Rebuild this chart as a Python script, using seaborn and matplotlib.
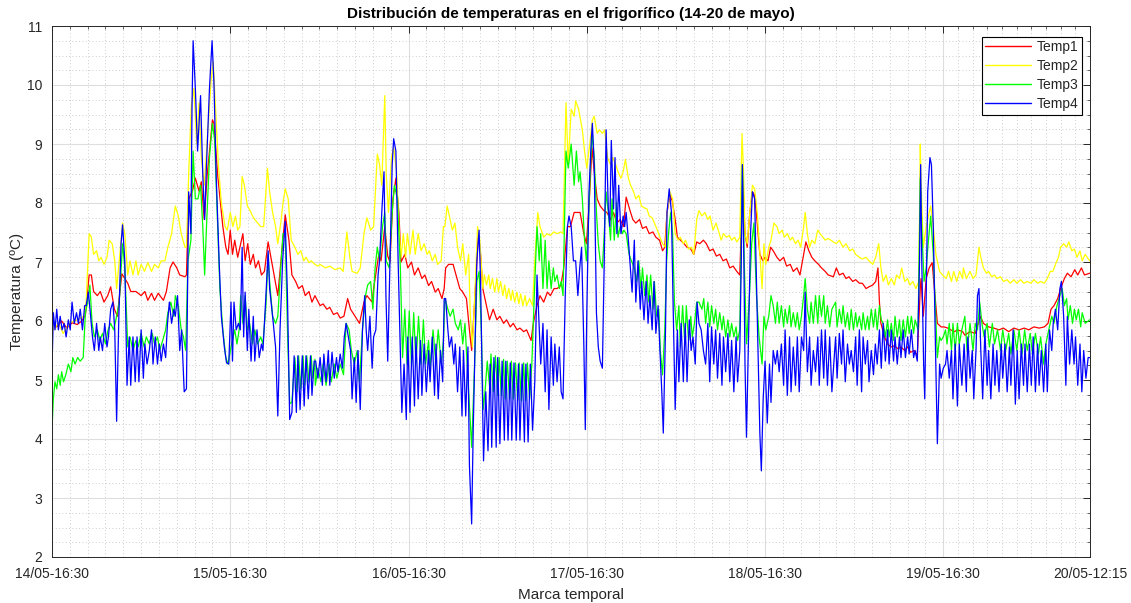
import matplotlib
matplotlib.use("Agg")
import matplotlib.pyplot as plt
from matplotlib.lines import Line2D
import seaborn as sns
import pandas as pd
import numpy as np

# ---------------- data (hours since 14/05 16:30, degrees C) ----------------
temp1 = [(0,5.97),(0.64,5.9),(1.3,6.0),(2.0,5.88),(2.7,5.97),(3.4,5.94),(4.0,6.0),(4.5,6.1),(5.0,6.78),(5.3,6.78),(5.6,6.5),(6.1,6.43),(6.5,6.5),(7.0,6.32),(7.5,6.43),(7.9,6.58),(8.4,6.2),(8.8,6.08),(9.4,6.8),(10.2,6.64),(10.6,6.5),(11.3,6.5),(12.0,6.43),(12.5,6.5),(12.9,6.35),(13.4,6.47),(13.8,6.35),(14.3,6.47),(15.0,6.35),(15.4,6.5),(15.9,6.9),(16.3,7.0),(16.8,6.9),(17.2,6.78),(17.9,6.75),
 (18.1,6.78),(18.4,8.07),(18.9,8.2),(19.3,8.42),(19.8,8.2),(20.1,8.36),(20.5,7.72),(20.9,8.48),(21.6,9.41),(21.8,9.35),(22.3,8.48),(23.0,7.6),(23.4,7.25),(23.7,7.13),(24.0,7.54),(24.3,7.13),(24.6,7.37),(25.0,7.08),(25.4,7.31),(25.7,7.48),(26.0,7.02),(26.35,7.31),(26.7,6.96),(27.1,7.13),(27.4,6.9),(27.8,7.02),(28.2,6.78),(28.6,6.84),(29.1,7.34),(29.4,7.13),(29.9,6.78),(30.4,6.43),(30.9,7.13),(31.4,7.8),(31.9,7.37),(32.3,6.78),(32.8,6.67),(33.2,6.55),(33.7,6.6),(34.1,6.43),(34.6,6.5),(35.0,6.32),(35.4,6.43),
 (35.6,6.38),(36.1,6.26),(36.5,6.29),(37.0,6.2),(37.4,6.23),(37.9,6.11),(38.4,6.14),(38.8,6.05),(39.3,6.08),(39.8,6.38),(40.2,6.2),(40.8,6.08),(41.4,5.96),(42.0,6.32),(42.4,6.43),(43.1,6.32),(43.3,6.55),(44.0,7.13),(44.3,7.02),(44.8,7.6),(45.2,7.1),(45.5,7.0),(45.9,8.07),(46.3,8.42),(46.7,7.84),(47.0,7.0),(47.5,7.13),(47.9,6.9),(48.4,7.0),(48.8,6.78),(49.3,6.9),(49.8,6.72),(50.2,6.78),(50.7,6.6),(51.1,6.67),(51.6,6.49),(52.0,6.55),(52.5,6.38),(52.8,6.55),
 (53.0,6.9),(53.4,6.96),(54.0,6.96),(54.4,6.78),(54.9,6.55),(55.3,6.49),(55.8,6.38),(56.2,5.85),(56.5,5.5),(56.9,6.32),(57.4,7.48),(57.7,7.13),(58.0,6.55),(58.5,6.26),(58.9,6.02),(59.4,6.2),(59.9,6.02),(60.3,6.08),(60.8,5.96),(61.2,6.02),(61.7,5.9),(62.1,5.96),(62.6,5.85),(63.0,5.88),(63.5,5.82),(63.9,5.85),(64.5,5.67),(64.8,5.96),(65.3,6.26),(65.7,6.43),(66.2,6.32),(66.7,6.49),(67.1,6.43),(67.6,6.55),(68.0,6.55),(68.5,6.6),(68.9,6.9),(69.4,7.6),(69.8,7.6),(70.3,7.84),
 (70.7,7.84),(71.1,7.84),(71.6,7.48),(71.95,7.31),(72.3,7.95),(72.7,8.94),(73.0,8.53),(73.4,8.07),(73.8,7.95),(74.3,7.87),(74.7,7.84),(75.2,7.72),(75.6,7.84),(76.05,7.66),(76.5,7.72),(76.95,7.6),(77.3,8.1),(77.75,7.9),(78.2,7.72),(78.6,7.66),(79.1,7.72),(79.5,7.57),(80.0,7.6),(80.4,7.48),(80.9,7.51),(81.3,7.42),(81.8,7.37),(82.2,7.19),(82.5,7.25),(82.8,7.84),(83.2,8.13),(83.5,8.04),(83.9,7.72),(84.2,7.42),(84.6,7.37),(85.1,7.31),(85.5,7.25),(86.0,7.22),(86.4,7.13),(86.8,7.34),(87.2,7.31),(87.7,7.37),
 (88.1,7.31),(88.55,7.19),(89.0,7.22),(89.45,7.1),(89.9,7.13),(90.35,7.02),(90.8,7.05),(91.25,6.9),(91.7,6.93),(92.2,6.84),(92.6,6.78),(93.0,8.42),(93.3,7.48),(93.6,7.25),(93.95,7.84),(94.3,8.19),(94.6,8.13),(94.9,7.72),(95.3,7.13),(95.7,7.02),(96.0,7.08),(96.4,7.02),(96.75,7.25),(97.1,7.19),(97.6,7.08),(98.0,7.02),(98.5,7.08),(98.9,6.93),(99.4,6.96),(99.8,6.84),(100.3,6.9),(100.7,6.78),(101.2,7.13),(101.5,7.34),(101.9,7.19),(102.3,7.08),(102.7,7.02),(103.2,6.96),(103.6,6.9),(104.1,6.84),(104.5,6.78),(105.2,6.75),
 (105.6,6.9),(106.0,6.78),(106.5,6.81),(106.9,6.72),(107.3,6.75),(107.8,6.67),(108.2,6.7),(108.7,6.64),(109.1,6.64),(109.6,6.55),(110.0,6.58),(110.5,6.61),(110.9,6.67),(111.2,6.9),(111.4,6.32),(111.6,5.96),(112.1,5.73),(112.5,5.61),(113.0,5.56),(113.4,5.58),(113.9,5.53),(114.3,5.56),(114.8,5.5),(115.2,5.56),(115.6,5.47),(116.1,5.5),(116.5,5.41),(116.9,6.55),(117.0,6.72),(117.3,6.08),(117.7,6.72),(118.1,6.9),(118.5,6.99),(118.8,6.55),(119.2,5.96),(119.7,5.9),(120.1,5.9),(120.6,5.88),(121.0,5.85),(121.5,5.82),(121.9,5.85),(122.6,5.82),
 (122.9,5.76),(123.6,5.82),(124.3,5.79),(125.0,6.08),(125.4,5.96),(126.1,5.9),(126.8,5.88),(127.5,5.85),(128.1,5.88),(128.8,5.82),(129.5,5.88),(130.2,5.85),(130.9,5.88),(131.5,5.85),(132.2,5.9),(132.9,5.88),(133.6,5.9),(134.1,5.96),(134.5,6.2),(134.9,6.26),(135.4,6.38),(135.8,6.55),(136.3,6.72),(136.7,6.81),(137.2,6.75),(137.7,6.87),(138.1,6.78),(138.6,6.9),(139.0,6.78),(139.7,6.81)]

temp2 = [(0,6.32),(0.27,5.85),(0.86,5.97),(1.5,5.79),(2.45,5.97),(3.4,6.02),(4.3,6.08),(4.6,6.32),(5.0,7.48),(5.3,7.42),(5.6,7.13),(6.0,7.19),(6.3,7.02),(6.6,7.08),(7.0,6.96),(7.4,7.08),(7.7,7.37),(8.1,7.31),(8.45,7.02),(8.7,6.55),(9.1,7.08),(9.5,7.66),(9.8,7.48),(10.2,6.78),(10.5,7.02),(10.9,6.78),(11.3,7.02),(11.6,6.78),(12.0,6.96),(12.45,6.84),(12.9,6.99),(13.4,6.84),(13.8,6.96),(14.3,6.9),(14.7,7.02),(15.2,7.02),(15.6,7.25),(16.1,7.48),(16.6,7.95),(17.0,7.78),(17.4,7.48),(17.9,7.25),
 (18.1,7.25),(18.4,8.48),(18.75,9.64),(19.1,9.94),(19.5,9.0),(19.8,9.7),(20.1,8.77),(20.5,8.3),(20.9,9.06),(21.4,10.05),(21.7,10.4),(22.0,9.64),(22.4,8.65),(22.8,8.0),(23.3,7.6),(23.6,7.54),(24.0,7.84),(24.35,7.6),(24.7,7.78),(25.0,7.54),(25.3,7.6),(25.6,8.45),(25.9,8.3),(26.3,7.95),(26.6,7.89),(27.0,7.78),(27.3,7.72),(27.7,7.66),(28.1,7.6),(28.5,7.6),(29.0,8.59),(29.3,8.19),(29.7,7.84),(30.1,7.6),(30.4,7.31),(30.8,7.66),(31.1,8.0),(31.4,8.24),(31.8,8.07),(32.2,7.37),(32.7,7.25),(33.1,7.13),(33.5,7.19),(33.9,7.02),(34.2,7.08),(34.6,6.99),(34.9,7.02),(35.4,6.96),
 (35.8,6.93),(36.1,6.96),(36.8,6.9),(37.4,6.93),(38.1,6.87),(38.8,6.9),(39.2,6.84),(39.7,7.51),(40.1,7.08),(40.4,6.84),(41.1,6.81),(41.5,6.9),(42.0,7.48),(42.4,7.75),(42.9,7.54),(43.3,7.6),(43.8,8.83),(44.1,8.65),(44.4,8.3),(44.8,9.82),(45.0,8.48),(45.3,7.84),(45.7,8.77),(46.0,8.94),(46.4,8.53),(46.7,7.6),(47.0,7.08),(47.3,7.48),(47.6,7.08),(47.85,7.48),(48.2,7.13),(48.6,7.54),(48.9,7.13),(49.3,7.48),(49.7,7.19),(50.1,7.31),(50.5,7.13),(50.8,7.19),(51.2,7.02),(51.6,7.13),(51.9,6.96),(52.4,7.02),(52.7,7.6),
 (52.9,7.6),(53.2,7.95),(53.5,7.78),(53.9,7.54),(54.25,7.66),(54.6,7.25),(55.0,7.02),(55.3,7.31),(55.7,6.78),(56.1,7.13),(56.3,6.14),(56.6,5.56),(57.0,6.67),(57.3,7.6),(57.6,7.37),(58.0,6.55),(58.2,6.78),(58.5,6.61),(58.8,6.78),(59.0,6.55),(59.3,6.72),(59.6,6.49),(59.9,6.72),(60.1,6.49),(60.4,6.67),(60.7,6.43),(60.95,6.61),(61.2,6.38),(61.5,6.55),(61.8,6.35),(62.0,6.52),(62.3,6.32),(62.6,6.49),(62.85,6.29),(63.1,6.46),(63.4,6.26),(63.7,6.43),(63.9,6.26),(64.3,6.38),(64.7,6.26),(65.0,7.02),(65.4,7.84),(65.7,7.6),(66.2,7.42),(66.65,7.48),(67.1,7.45),(67.55,7.51),(68.0,7.48),(68.5,7.51),(68.8,7.48),(69.2,9.7),(69.5,8.65),(69.9,9.59),(70.3,9.47),
 (70.5,9.73),(70.9,9.59),(71.4,9.24),(71.7,8.88),(72.0,8.59),(72.4,9.0),(72.75,9.41),(73.0,9.47),(73.4,9.18),(73.7,9.24),(74.1,9.18),(74.4,9.24),(74.8,8.77),(75.2,8.65),(75.5,8.77),(75.9,8.65),(76.2,8.53),(76.6,8.42),(76.9,8.53),(77.2,8.74),(77.6,8.42),(77.9,8.3),(78.3,8.19),(78.6,8.07),(79.0,8.13),(79.35,7.95),(79.7,7.92),(80.1,7.9),(80.4,7.78),(80.8,7.75),(81.1,7.66),(81.5,7.54),(81.85,7.42),(82.2,7.31),(82.6,7.25),(82.8,7.84),(83.2,8.19),(83.55,8.07),(83.9,7.48),(84.3,7.37),(84.6,7.42),(85.0,7.31),(85.3,7.37),(85.7,7.22),(86.1,7.25),(86.4,7.13),(86.8,7.72),(87.1,7.87),(87.5,7.78),
 (87.9,7.84),(88.3,7.72),(88.6,7.78),(89.0,7.54),(89.4,7.66),(89.7,7.54),(90.1,7.37),(90.4,7.48),(90.8,7.42),(91.2,7.45),(91.5,7.37),(91.9,7.42),(92.2,7.34),(92.6,7.42),(92.9,9.18),(93.1,8.53),(93.3,7.48),(93.6,7.31),(93.95,7.84),(94.3,8.3),(94.6,8.24),(94.95,7.84),(95.3,7.13),(95.6,6.55),(95.85,7.31),(96.1,6.96),(96.5,7.25),(96.8,7.37),(97.2,7.66),(97.6,7.6),(97.9,7.48),(98.3,7.54),(98.6,7.42),(99.0,7.48),(99.4,7.37),(99.7,7.42),(100.1,7.31),(100.45,7.37),(100.8,7.25),(101.2,7.6),(101.4,7.84),(101.7,7.48),(102.0,7.25),(102.3,7.37),(102.7,7.31),(103.1,7.54),(103.4,7.48),(103.8,7.42),(104.1,7.37),(104.5,7.4),(105.2,7.34),
 (105.6,7.31),(106.0,7.37),(106.5,7.25),(106.9,7.31),(107.4,7.19),(107.8,7.22),(108.2,7.13),(108.7,7.08),(109.1,7.05),(109.6,7.08),(110.0,7.02),(110.5,6.96),(110.9,7.08),(111.3,7.31),(111.6,6.9),(111.9,6.67),(112.3,6.78),(112.6,6.61),(113.0,6.72),(113.4,6.61),(113.7,6.78),(114.1,6.72),(114.4,6.9),(114.8,6.67),(115.2,6.72),(115.5,6.61),(115.9,6.67),(116.3,6.55),(116.7,6.67),(116.9,9.0),(117.0,8.36),(117.3,7.25),(117.7,7.6),(118.0,7.78),(118.3,7.95),(118.65,7.6),(119.0,7.13),(119.5,6.84),(119.9,6.78),(120.4,6.72),(120.7,6.84),(121.1,6.67),(121.4,6.84),(121.8,6.67),(122.2,6.84),(122.6,6.72),
 (122.7,6.9),(123.1,6.72),(123.6,6.84),(124.0,6.72),(124.4,6.78),(124.8,7.25),(125.05,7.08),(125.4,6.9),(125.8,6.81),(126.1,6.84),(126.5,6.75),(126.9,6.78),(127.2,6.72),(127.7,6.75),(128.1,6.67),(128.6,6.7),(129.0,6.64),(129.5,6.7),(129.9,6.64),(130.4,6.7),(130.85,6.64),(131.3,6.67),(131.8,6.64),(132.2,6.7),(132.7,6.64),(133.1,6.67),(133.6,6.64),(134.0,6.72),(134.4,6.84),(134.75,6.84),(135.1,6.96),(135.5,7.08),(135.8,7.25),(136.2,7.31),(136.6,7.25),(136.9,7.34),(137.3,7.19),(137.65,7.22),(138.0,7.08),(138.4,7.19),(138.7,7.02),(139.1,7.13),(139.7,7.02)]

temp3 = [(0,4.16),(0.18,4.68),(0.4,4.97),(0.64,4.85),(0.86,5.09),(1.1,4.91),(1.3,5.14),(1.55,4.97),(1.86,5.09),(2.2,5.27),(2.55,5.14),(2.8,5.38),(3.1,5.27),(3.45,5.38),(3.8,5.32),(4.2,5.38),(4.5,6.14),(4.8,6.32),(5.1,6.61),(5.4,5.96),(5.7,5.73),(6.1,5.85),(6.45,5.67),(6.8,5.79),(7.2,5.61),(7.55,5.85),(7.9,5.96),(8.3,5.85),(8.6,6.02),(9.05,6.32),(9.5,7.31),(9.8,6.9),(10.2,5.56),(10.5,5.73),(10.9,5.5),(11.3,5.67),(11.6,5.56),(12.0,5.79),(12.4,5.56),(12.7,5.73),(13.1,5.61),(13.5,5.79),(13.8,5.61),(14.2,5.73),(14.5,5.5),(14.9,5.67),(15.3,5.85),(15.6,6.14),(16.0,6.32),(16.4,6.08),(16.6,6.43),(17.0,6.26),(17.4,5.85),(17.7,5.73),
 (18.0,5.5),(18.3,7.02),(18.7,7.37),(19.0,8.88),(19.3,8.07),(19.65,8.07),(20.0,8.3),(20.3,7.6),(20.55,6.78),(20.8,7.6),(21.2,8.77),(21.6,9.35),(21.9,9.06),(22.3,7.6),(22.6,6.55),(23.0,5.85),(23.4,5.38),(23.7,5.27),(24.1,5.56),(24.4,5.73),(24.6,5.85),(24.9,5.61),(25.2,5.85),(25.4,6.43),(25.7,5.96),(26.0,6.43),(26.3,5.85),(26.6,5.96),(27.0,5.61),(27.3,5.85),(27.7,5.61),(28.1,5.73),(28.4,5.61),(28.8,6.26),(29.1,7.13),(29.3,6.67),(29.7,6.08),(30.1,5.96),(30.4,6.08),(30.8,6.9),(31.1,7.48),(31.4,7.48),(31.7,5.85),(32.0,4.6),(32.3,4.62),(32.7,5.38),(33.0,4.8),(33.2,5.41),(33.5,4.85),(33.8,5.41),(34.0,4.91),(34.3,5.41),(34.6,4.97),(34.9,5.41),(35.1,5.03),(35.4,5.35),
 (35.45,4.91),(35.8,5.2),(36.2,4.97),(36.5,5.27),(36.9,4.91),(37.3,5.27),(37.6,4.97),(38.0,5.27),(38.35,5.03),(38.8,5.27),(39.25,5.09),(39.6,5.96),(40.0,5.85),(40.3,5.5),(40.7,5.27),(41.1,5.5),(41.4,4.97),(41.8,5.85),(42.2,6.43),(42.5,6.61),(42.9,6.67),(43.2,6.2),(43.5,6.9),(43.8,7.25),(44.1,7.02),(44.5,7.6),(44.8,7.84),(45.0,7.02),(45.4,6.9),(45.8,7.84),(46.1,8.3),(46.5,8.07),(46.9,6.9),(47.2,5.38),(47.5,6.2),(47.8,5.27),(48.1,6.17),(48.4,5.27),(48.7,6.14),(49.0,5.27),(49.35,6.08),(49.7,5.27),(50.0,6.02),(50.3,5.27),(50.7,5.67),(50.9,5.2),(51.3,5.85),(51.65,5.32),(52.0,5.85),(52.4,5.27),(52.7,5.67),
 (52.9,6.38),(53.3,6.2),(53.6,6.08),(54.0,6.2),(54.3,5.96),(54.7,5.85),(55.0,6.02),(55.3,5.61),(55.6,5.96),(55.9,5.27),(56.15,4.68),(56.5,3.86),(56.9,5.27),(57.2,6.67),(57.5,6.84),(57.8,5.85),(58.05,4.5),(58.3,4.8),(58.6,5.32),(58.9,4.91),(59.1,5.44),(59.4,4.8),(59.7,5.41),(60.0,4.74),(60.2,5.38),(60.5,4.74),(60.8,5.35),(61.0,4.68),(61.3,5.32),(61.6,4.68),(61.85,5.32),(62.1,4.68),(62.4,5.29),(62.7,4.65),(62.9,5.29),(63.2,4.65),(63.5,5.29),(63.75,4.65),(64.0,5.29),(64.3,4.68),(64.6,5.27),(64.9,6.32),(65.3,7.6),(65.6,7.02),(65.8,7.48),(66.1,6.55),(66.4,7.37),(66.65,6.55),(66.9,7.02),(67.2,6.55),(67.5,6.9),(67.7,6.67),(68.0,6.78),(68.3,6.55),(68.55,6.67),(68.8,6.43),(69.2,8.88),(69.5,8.59),(69.9,9.0),(70.3,8.3),
 (70.6,8.88),(70.9,8.36),(71.1,8.53),(71.4,8.07),(71.7,7.37),(71.95,7.02),(72.2,7.6),(72.5,8.65),(72.75,9.18),(73.0,8.77),(73.3,7.84),(73.55,7.31),(73.8,7.02),(74.1,6.9),(74.35,7.48),(74.6,8.19),(74.9,7.84),(75.2,7.37),(75.4,8.07),(75.7,7.37),(76.0,8.01),(76.2,7.42),(76.5,7.6),(76.8,7.48),(77.0,7.54),(77.3,7.48),(77.7,7.13),(78.0,7.02),(78.4,6.9),(78.7,6.67),(79.0,7.02),(79.3,6.55),(79.5,6.9),(79.8,6.43),(80.1,6.78),(80.35,6.32),(80.6,6.78),(80.9,6.2),(81.1,6.67),(81.4,6.08),(81.7,6.2),(81.9,5.5),(82.2,5.09),(82.5,5.85),(82.75,7.02),(83.0,7.48),(83.3,7.84),(83.55,7.48),(83.8,6.32),(84.1,5.85),(84.4,6.26),(84.6,5.56),(84.9,6.26),(85.2,5.61),(85.4,6.26),(85.7,5.67),(86.0,6.08),(86.2,5.73),(86.5,5.96),(86.8,6.32),(87.1,6.32),(87.5,6.2),
 (87.75,6.38),(88.0,5.96),(88.3,6.32),(88.55,5.9),(88.8,6.26),(89.1,5.96),(89.35,6.2),(89.6,5.85),(89.9,6.14),(90.2,5.85),(90.4,6.08),(90.7,5.73),(91.0,6.02),(91.25,5.73),(91.5,5.96),(91.8,5.73),(92.1,5.9),(92.3,5.67),(92.6,5.85),(92.95,8.65),(93.2,7.02),(93.5,5.61),(93.9,6.43),(94.2,7.31),(94.5,7.66),(94.85,6.43),(95.2,5.73),(95.6,5.27),(95.85,6.08),(96.1,5.85),(96.5,6.08),(96.8,6.43),(97.1,6.26),(97.4,5.96),(97.65,6.32),(97.9,5.96),(98.2,6.26),(98.5,5.9),(98.7,6.2),(99.0,5.96),(99.3,6.26),(99.5,5.9),(99.8,6.14),(100.1,5.9),(100.35,6.14),(100.6,5.85),(100.9,6.08),(101.2,6.43),(101.4,6.72),(101.7,6.2),(102.0,5.96),(102.2,6.32),(102.5,5.96),(102.8,6.43),(103.1,5.96),(103.3,6.43),(103.6,6.08),(103.9,6.43),(104.1,5.96),(104.4,6.26),(104.7,5.9),(105.0,6.2),
 (105.5,6.32),(105.7,5.9),(106.0,6.2),(106.3,5.96),(106.5,6.26),(106.8,5.9),(107.1,6.14),(107.35,5.85),(107.6,6.2),(107.9,5.85),(108.2,6.14),(108.4,5.9),(108.7,6.08),(109.0,5.85),(109.2,6.14),(109.5,5.85),(109.8,6.08),(110.0,5.85),(110.3,6.2),(110.6,5.9),(110.85,6.2),(111.1,5.85),(111.4,6.26),(111.65,6.02),(111.9,5.96),(112.2,5.73),(112.5,6.02),(112.7,5.73),(113.0,5.96),(113.3,5.67),(113.5,6.08),(113.8,5.73),(114.1,6.02),(114.3,5.67),(114.6,6.02),(114.9,5.73),(115.2,6.08),(115.4,5.79),(115.7,6.08),(116.0,5.79),(116.2,6.02),(116.6,5.85),(116.9,8.42),(117.1,7.6),(117.4,6.67),(117.7,6.9),(118.0,7.37),(118.3,7.78),(118.65,7.13),(118.9,6.32),(119.2,5.38),(119.5,5.73),(119.7,5.67),(120.0,5.73),(120.3,5.85),(120.5,5.61),(120.8,5.96),(121.1,5.5),(121.3,5.96),(121.6,5.5),(121.9,5.96),(122.15,5.61),(122.5,5.85),
 (122.9,6.08),(123.2,5.5),(123.6,5.96),(124.0,5.5),(124.3,5.96),(124.6,5.85),(124.9,6.32),(125.2,5.96),(125.5,5.73),(125.9,5.96),(126.2,5.56),(126.6,5.96),(126.9,5.61),(127.3,5.85),(127.7,5.5),(128.0,5.85),(128.4,5.5),(128.8,5.79),(129.1,5.44),(129.5,5.85),(129.9,5.5),(130.2,5.85),(130.6,5.44),(130.95,5.85),(131.3,5.5),(131.7,5.79),(132.0,5.44),(132.4,5.79),(132.8,5.44),(133.1,5.73),(133.5,5.27),(133.8,5.61),(134.2,5.85),(134.6,6.08),(134.9,5.96),(135.3,6.26),(135.7,6.43),(136.0,6.55),(136.3,6.26),(136.6,6.38),(136.8,6.02),(137.1,6.26),(137.4,5.96),(137.65,6.2),(137.9,6.02),(138.2,6.2),(138.5,5.9),(138.7,6.14),(139.1,5.96),(139.7,6.02)]

temp4 = [(0,5.2),(0.18,6.14),(0.4,5.85),(0.64,6.2),(0.86,5.85),(1.1,6.08),(1.36,5.85),(1.64,5.96),(1.9,5.73),(2.2,6.02),(2.45,5.85),(2.7,6.32),(3.0,5.96),(3.3,6.14),(3.55,5.96),(3.8,6.2),(4.1,5.85),(4.4,6.26),(4.6,6.26),(4.9,6.49),(5.2,6.08),(5.45,5.73),(5.7,5.5),(6.0,5.96),(6.3,5.5),(6.5,5.73),(6.8,5.5),(7.1,5.96),(7.4,5.56),(7.6,5.73),(7.9,6.2),(8.2,6.32),(8.45,5.85),(8.7,4.3),(9.0,6.08),(9.3,7.31),(9.5,7.63),(9.8,7.02),(10.1,4.91),(10.4,5.73),(10.6,4.91),(10.9,5.73),(11.2,4.97),(11.45,5.73),(11.7,4.97),(12.0,5.85),(12.3,5.03),(12.5,5.61),(12.8,5.27),(13.1,5.5),(13.4,5.85),(13.6,5.27),(13.9,5.73),(14.2,5.27),(14.45,5.61),(14.7,5.32),(15.0,5.61),(15.3,5.38),(15.55,5.96),(15.8,6.32),(16.1,5.96),(16.4,6.2),(16.6,6.08),(16.9,6.43),(17.2,5.5),(17.45,5.85),(17.8,4.8),
 (18.1,4.85),(18.4,8.19),(18.7,7.48),(18.85,9.64),(19.0,10.75),(19.3,9.94),(19.6,8.88),(19.8,9.35),(20.0,9.82),(20.3,8.48),(20.55,7.72),(20.8,8.65),(21.2,9.94),(21.55,10.75),(21.8,10.05),(22.1,8.48),(22.5,7.02),(22.8,6.08),(23.2,5.56),(23.5,5.29),(23.8,5.27),(24.1,6.32),(24.3,5.32),(24.5,6.32),(24.8,5.85),(25.1,5.96),(25.35,5.85),(25.6,7.25),(25.8,5.73),(26.0,6.49),(26.3,5.5),(26.5,6.2),(26.8,5.32),(27.1,6.08),(27.3,5.32),(27.6,5.85),(27.9,5.38),(28.2,5.61),(28.4,5.5),(28.8,6.43),(29.1,7.19),(29.3,6.55),(29.7,6.08),(30.1,5.56),(30.4,4.39),(30.7,5.85),(31.05,7.02),(31.4,7.69),(31.7,6.43),(32.0,4.33),(32.3,4.45),(32.6,5.41),(32.9,4.45),(33.1,5.41),(33.4,4.5),(33.7,5.41),(33.95,4.56),(34.2,5.41),(34.5,4.68),(34.8,5.41),(35.0,4.74),(35.3,5.32),
 (35.5,5.32),(35.8,5.03),(36.1,5.38),(36.4,4.91),(36.6,5.44),(36.9,4.97),(37.2,5.5),(37.4,4.91),(37.7,5.47),(38.0,5.03),(38.3,5.38),(38.5,5.14),(38.8,5.44),(39.1,5.2),(39.35,5.73),(39.6,5.96),(39.9,5.73),(40.2,5.5),(40.4,4.68),(40.7,5.38),(40.95,4.62),(41.2,5.5),(41.5,4.5),(41.8,5.85),(42.1,6.43),(42.3,5.85),(42.5,5.5),(42.8,6.08),(43.1,5.2),(43.3,5.73),(43.6,5.85),(43.9,6.78),(44.1,7.02),(44.4,7.84),(44.7,8.53),(44.96,6.43),(45.2,5.32),(45.5,7.02),(45.8,8.65),(46.0,9.09),(46.3,8.88),(46.6,7.02),(46.9,5.5),(47.1,4.45),(47.4,5.27),(47.7,4.33),(47.9,5.73),(48.2,4.45),(48.5,5.73),(48.8,4.56),(49.0,5.73),(49.3,4.68),(49.6,5.67),(49.8,4.74),(50.1,5.61),(50.4,4.8),(50.7,5.5),(50.9,4.97),(51.2,5.73),(51.5,4.74),(51.7,5.61),(52.0,4.68),(52.3,5.5),(52.6,4.97),(52.8,6.38),
 (53.0,6.38),(53.3,5.85),(53.5,5.56),(53.8,5.73),(54.1,5.27),(54.3,5.61),(54.6,4.8),(54.9,5.56),(55.2,4.39),(55.4,5.5),(55.7,4.39),(56.0,5.56),(56.2,3.55),(56.5,2.56),(56.7,4.09),(57.0,5.85),(57.2,7.02),(57.5,7.54),(57.7,6.67),(57.96,4.68),(58.1,3.63),(58.4,4.8),(58.7,3.8),(59.0,5.27),(59.2,3.86),(59.5,5.38),(59.8,3.86),(60.0,5.38),(60.3,3.92),(60.6,5.32),(60.9,3.98),(61.1,5.32),(61.4,3.98),(61.7,5.29),(61.9,3.98),(62.2,5.29),(62.5,3.98),(62.8,5.27),(63.0,3.98),(63.3,5.27),(63.6,3.95),(63.8,5.27),(64.1,3.95),(64.4,5.27),(64.7,4.15),(65.0,4.97),(65.3,6.78),(65.6,5.85),(65.8,5.27),(66.1,5.96),(66.4,4.8),(66.65,5.85),(66.9,4.5),(67.2,5.73),(67.5,4.91),(67.7,5.61),(68.0,4.97),(68.3,5.56),(68.55,4.8),(68.8,4.68),(69.1,6.43),(69.4,7.6),(69.6,7.78),(69.9,7.6),(70.2,7.02),
 (70.5,7.02),(70.8,6.43),(71.05,6.9),(71.3,7.25),(71.6,5.61),(71.8,4.16),(72.0,6.14),(72.3,8.19),(72.6,9.06),(72.75,9.35),(73.0,8.65),(73.3,6.14),(73.55,5.56),(73.8,5.32),(74.1,5.2),(74.35,7.02),(74.6,9.24),(74.9,7.9),(75.1,7.6),(75.3,9.06),(75.6,7.9),(75.8,8.77),(76.05,7.48),(76.3,8.3),(76.6,7.48),(76.9,7.78),(77.1,7.6),(77.3,7.84),(77.6,7.37),(77.8,7.02),(78.1,6.49),(78.4,7.37),(78.6,6.32),(78.9,7.02),(79.2,6.2),(79.4,6.67),(79.7,6.02),(80.0,6.67),(80.25,5.96),(80.5,6.43),(80.8,5.85),(81.05,6.67),(81.3,5.79),(81.6,6.26),(81.85,5.5),(82.1,4.8),(82.3,4.1),(82.6,5.85),(82.8,7.84),(83.1,8.24),(83.4,7.84),(83.6,6.43),(83.9,4.5),(84.2,5.85),(84.4,4.97),(84.7,5.96),(85.0,4.97),(85.25,5.96),(85.5,4.97),(85.8,6.02),(86.05,5.5),(86.3,5.73),(86.6,5.27),(86.85,6.32),(87.1,5.96),(87.4,5.85),(87.7,5.5),
 (88.0,5.27),(88.3,5.96),(88.55,4.97),(88.8,5.9),(89.1,5.27),(89.35,5.85),(89.6,5.03),(89.9,5.79),(90.2,4.91),(90.4,5.73),(90.7,5.14),(91.0,5.79),(91.25,4.97),(91.5,5.67),(91.8,4.8),(92.1,5.73),(92.3,4.97),(92.6,5.5),(92.8,7.02),(92.95,8.65),(93.15,7.02),(93.3,5.27),(93.5,4.03),(93.8,5.85),(94.05,7.48),(94.3,8.19),(94.6,8.07),(94.85,6.67),(95.1,5.27),(95.3,4.1),(95.5,3.46),(95.75,4.68),(96.0,5.32),(96.3,4.27),(96.6,5.27),(96.8,4.62),(97.1,5.5),(97.4,5.27),(97.65,5.5),(97.9,5.14),(98.2,5.61),(98.5,4.91),(98.7,5.85),(99.0,4.74),(99.3,5.73),(99.5,4.8),(99.8,5.56),(100.1,4.91),(100.35,5.73),(100.6,4.8),(100.9,5.73),(101.2,5.5),(101.4,6.49),(101.7,5.14),(102.0,5.73),(102.2,4.91),(102.5,5.5),(102.8,5.14),(103.1,5.73),(103.3,4.91),(103.6,5.85),(103.9,5.03),(104.1,5.85),(104.4,4.91),(104.7,5.73),(105.0,4.8),
 (105.5,5.73),(105.7,5.03),(106.0,5.79),(106.3,5.27),(106.5,5.85),(106.8,4.97),(107.1,5.61),(107.35,5.27),(107.6,5.5),(107.9,5.14),(108.2,5.73),(108.4,4.91),(108.7,5.85),(109.0,4.8),(109.2,5.73),(109.5,5.27),(109.8,5.67),(110.0,4.97),(110.3,5.5),(110.6,5.09),(110.85,5.61),(111.1,5.27),(111.4,5.85),(111.65,5.2),(111.9,5.96),(112.2,5.32),(112.5,5.85),(112.7,5.27),(113.0,5.85),(113.3,5.32),(113.5,5.73),(113.8,5.27),(114.1,5.73),(114.3,5.38),(114.6,5.85),(114.9,5.38),(115.2,5.73),(115.4,5.44),(115.7,5.85),(116.0,5.38),(116.2,5.5),(116.5,5.32),(116.8,7.02),(116.95,8.65),(117.1,7.02),(117.35,5.27),(117.5,4.68),(117.7,6.43),(117.9,8.19),(118.2,8.77),(118.4,8.65),(118.65,7.6),(118.9,5.85),(119.2,3.92),(119.5,5.27),(119.7,5.03),(120.0,5.2),(120.3,5.27),(120.5,5.5),(120.8,5.03),(121.1,5.5),(121.3,4.68),(121.6,5.61),(121.9,4.56),(122.15,5.61),(122.5,4.91),
 (122.8,5.61),(123.1,4.8),(123.3,5.73),(123.6,5.03),(123.9,5.5),(124.1,4.68),(124.4,5.5),(124.6,6.43),(124.8,6.55),(125.05,5.5),(125.3,4.68),(125.6,5.85),(125.9,4.91),(126.1,5.5),(126.4,4.68),(126.7,5.61),(126.95,4.91),(127.2,5.5),(127.5,4.8),(127.8,5.61),(128.0,5.03),(128.3,5.61),(128.6,4.8),(128.9,5.56),(129.1,4.91),(129.4,5.85),(129.7,4.59),(129.95,5.5),(130.2,4.68),(130.5,5.61),(130.8,4.91),(131.0,5.61),(131.3,4.8),(131.6,5.61),(131.85,4.91),(132.1,5.73),(132.4,4.8),(132.7,5.61),(132.9,4.91),(133.2,5.5),(133.5,4.8),(133.8,5.61),(134.0,4.8),(134.3,5.85),(134.6,5.5),(134.8,5.96),(135.1,6.2),(135.4,5.85),(135.7,6.55),(135.9,6.67),(136.2,6.08),(136.5,4.91),(136.7,6.08),(137.0,5.27),(137.3,5.85),(137.6,5.27),(137.8,5.73),(138.1,4.91),(138.4,5.61),(138.65,4.8),(138.9,5.5),(139.2,5.03),(139.5,5.38),(139.75,5.38)]

series_names = ["Temp1", "Temp2", "Temp3", "Temp4"]
series_colors = ["#ff0000", "#ffff00", "#00ff00", "#0000ff"]
major_ticks = [0, 24, 48, 72, 96, 120, 139.75]
tick_labels = ["14/05-16:30", "15/05-16:30", "16/05-16:30", "17/05-16:30",
               "18/05-16:30", "19/05-16:30", "20/05-12:15"]

# ---------------- figure ----------------
sns.set_theme(style="white")
plt.rcParams['font.family'] = ['Liberation Sans', 'DejaVu Sans']

fig = plt.figure(figsize=(11.31, 6.03), dpi=100)
ax = fig.add_axes([52/1131, 46/603, (1090-52)/1131, (557-26)/603])

frames = []
for name, pts in zip(series_names, [temp1, temp2, temp3, temp4]):
    frames.append(pd.DataFrame({"hora": [p[0] for p in pts],
                                "temp": [p[1] for p in pts],
                                "sensor": name}))
df = pd.concat(frames, ignore_index=True)

sns.lineplot(data=df, x="hora", y="temp", hue="sensor", hue_order=series_names,
             palette=dict(zip(series_names, series_colors)), estimator=None,
             sort=False, linewidth=0.9, ax=ax, legend=False)

ax.set_xlim(0, 139.75)
ax.set_ylim(2, 11)
ax.set_xticks(major_ticks)
ax.set_xticklabels(tick_labels)
minor_x = [a + (b - a) * k / 10 for a, b in zip(major_ticks[:-1], major_ticks[1:]) for k in range(1, 10)]
ax.set_xticks(minor_x, minor=True)
ax.set_yticks(range(2, 12))
ax.set_yticks(np.arange(2, 11.001, 0.25), minor=True)

ax.grid(which='major', color='#dedede', linewidth=0.8, linestyle='-')
ax.grid(which='minor', color='#bdbdbd', linewidth=0.6, linestyle=(0, (1, 3)))
ax.set_axisbelow(True)
ax.tick_params(which='both', direction='in', top=True, right=True,
               colors='#262626', labelsize=10)
ax.tick_params(which='major', length=5, width=0.7, pad=7)
ax.tick_params(which='minor', length=2.5, width=0.5)
for s in ax.spines.values():
    s.set_color('#262626')
    s.set_linewidth(0.7)

ax.set_title("Distribución de temperaturas en el frigorífico (14-20 de mayo)",
             fontsize=11, fontweight='bold', color='black', pad=6)
ax.set_xlabel("Marca temporal", fontsize=11, color='#262626', labelpad=5)
ax.set_ylabel("Temperatura (ºC)", fontsize=11, color='#262626', labelpad=2)

handles = [Line2D([0], [0], color=c, lw=1.0) for c in series_colors]
leg = ax.legend(handles, series_names, loc='upper right',
                bbox_to_anchor=((1082 - 52) / 1038, (557 - 37) / 531),
                borderaxespad=0, fontsize=10, frameon=True, fancybox=False,
                framealpha=1, edgecolor='black', handlelength=3.3,
                handletextpad=0.4, labelspacing=0.36, borderpad=0.24)
leg.get_frame().set_linewidth(0.8)

fig.savefig("out.png", dpi=100)
